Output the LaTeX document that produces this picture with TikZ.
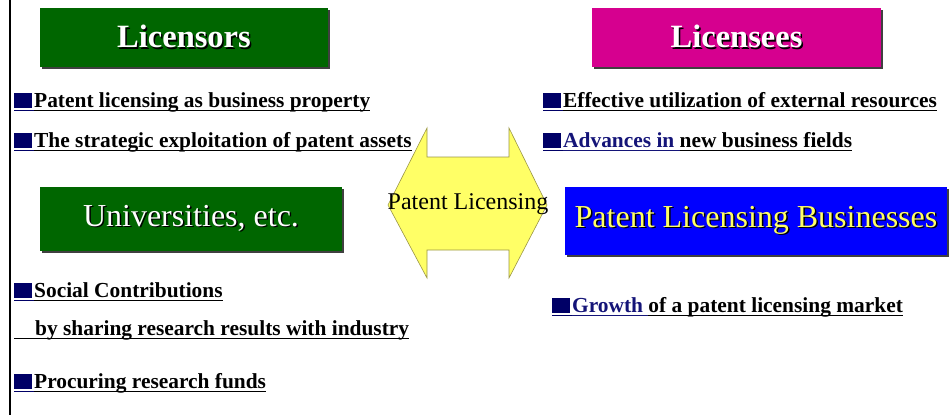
\documentclass[tikz,border=0pt]{standalone}
\usepackage{fontspec}
\setmainfont{Liberation Serif}
\usepackage{xcolor}
\usepackage{tikz}
\usetikzlibrary{positioning, shadows}

\definecolor{boxgreen}{RGB}{0,102,0}
\definecolor{boxmagenta}{RGB}{214,0,143}
\definecolor{boxblue}{RGB}{0,0,255}
\definecolor{arrowyellow}{RGB}{255,255,102}
\definecolor{bulletnavy}{RGB}{0,0,102}
\definecolor{textnavy}{RGB}{20,20,120}

% underline at a fixed depth
\newsavebox{\ulinebox}
\newcommand{\ulined}[1]{\sbox{\ulinebox}{#1}\rlap{\rule[-4.3pt]{\wd\ulinebox}{1.3pt}}\usebox{\ulinebox}}
\newcommand{\sqbullet}{\textcolor{bulletnavy}{\ulined{\rule[-1pt]{18pt}{15pt}\kern2pt}}}
\newcommand{\shtext}[1]{\makebox[0pt][l]{\kern1.5pt\raisebox{-1.5pt}{\color{black}#1}}#1}

\begin{document}
\begin{tikzpicture}[
    x=1pt, y=-1pt,
    heading/.style={rectangle, inner sep=0pt,
        drop shadow={shadow xshift=2pt, shadow yshift=-2pt, fill=black!75, opacity=1}},
    item/.style={anchor=base west, inner sep=0pt, font=\fontsize{21.4}{25}\selectfont\bfseries},
    exchange/.style={fill=arrowyellow, draw=yellow!55!black, line width=0.6pt}
]
    \useasboundingbox (0,0) rectangle (951,415);

    % Left margin rule
    \draw[line width=2pt] (9.5,0) -- (9.5,415);

    % Headings
    \node[heading, fill=boxgreen, minimum width=288pt, minimum height=59pt, text=white,
        font=\fontsize{32.5}{37}\selectfont\bfseries] (licensors) at (184,37.5) {\shtext{Licensors}};
    \node[heading, fill=boxmagenta, minimum width=289pt, minimum height=59pt, text=white,
        font=\fontsize{32.5}{37}\selectfont\bfseries] (licensees) at (736.5,37.5) {\shtext{Licensees}};
    \node[heading, fill=boxgreen, minimum width=302pt, minimum height=64pt, text=white,
        font=\fontsize{32}{37}\selectfont] (univ) at (191,219) {\shtext{Universities, etc.}};
    \node[heading, fill=boxblue, minimum width=382pt, minimum height=68pt, text=arrowyellow,
        font=\fontsize{32}{37}\selectfont] (plb) at (756,221) {\shtext{Patent Licensing Businesses}};

    % Licensor points
    \node[item] (lic1) at (14,107) {\sqbullet\ulined{Patent licensing as business property}};
    \node[item] (lic2) at (14,147) {\sqbullet\ulined{The strategic exploitation of patent assets}};

    % Licensee points
    \node[item] (lee1) at (543,107) {\sqbullet\ulined{Effective utilization of external resources}};
    \node[item] (lee2) at (543,147) {\sqbullet\textcolor{textnavy}{\ulined{Advances in\ }}\ulined{new business fields}};

    % University points
    \node[item] (uni1) at (14,297) {\sqbullet\ulined{Social Contributions}};
    \node[item] (uni2) at (14,335) {\ulined{\kern21pt by sharing research results with industry}};
    \node[item] (uni3) at (14,388) {\sqbullet\ulined{Procuring research funds}};

    % Business point
    \node[item] (plb1) at (552,312) {\sqbullet\textcolor{textnavy}{\ulined{Growth\ }}\ulined{of a patent licensing market}};

    % Licensing exchange
    \draw[exchange] (388,205) -- (427,128) -- (427,157) -- (509,157) -- (509,128) -- (547,205)
        -- (509,278) -- (509,250) -- (427,250) -- (427,278) -- cycle;
    \node[font=\fontsize{24}{28}\selectfont] (exch) at (468,204) {Patent Licensing};
\end{tikzpicture}
\end{document}
